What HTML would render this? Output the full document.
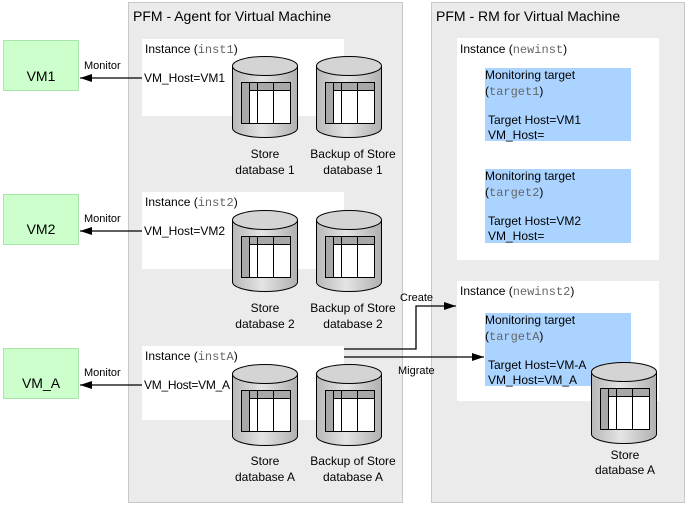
<!DOCTYPE html>
<html><head><meta charset="utf-8"><style>
html,body{margin:0;padding:0;background:#fff}
svg{display:block;font-family:"Liberation Sans",sans-serif}
.m{font-family:"Liberation Mono",monospace;fill:#666}
</style></head><body>
<svg width="687" height="505" viewBox="0 0 687 505" xmlns="http://www.w3.org/2000/svg">
<defs>
<linearGradient id="g" x1="0" x2="1" y1="0" y2="0">
<stop offset="0" stop-color="#b8b8b8"/><stop offset="0.45" stop-color="#e4e4e4"/><stop offset="1" stop-color="#b0b0b0"/>
</linearGradient>
<g id="cyl">
<path d="M0.5,10 L0.5,72 A32.5,9.5 0 0 0 65.5,72 L65.5,10" fill="url(#g)" stroke="#000"/>
<ellipse cx="33" cy="10" rx="32.5" ry="9.5" fill="#d4d4d4" stroke="#000"/>
<rect x="9.5" y="26.5" width="49" height="41" fill="#fff" stroke="#000"/>
<rect x="9.5" y="26.5" width="49" height="8" fill="#a8a8a8" stroke="#000"/>
<rect x="9.5" y="26.5" width="8" height="41" fill="#a8a8a8" stroke="#000"/>
<line x1="25.5" y1="26.5" x2="25.5" y2="67.5" stroke="#000"/>
<line x1="41.5" y1="26.5" x2="41.5" y2="67.5" stroke="#000"/>
</g>
<marker id="ah" markerWidth="12" markerHeight="8" refX="12" refY="4" orient="auto" markerUnits="userSpaceOnUse">
<path d="M0,0 L12,4 L0,8 z" fill="#000"/>
</marker>
</defs>
<rect x="128.5" y="2.5" width="274" height="500" fill="#ebebeb" stroke="#c8c8c8"/>
<rect x="431.5" y="2.5" width="253" height="500" fill="#ebebeb" stroke="#c8c8c8"/>
<text x="133" y="21" font-size="14" fill="#000">PFM - Agent for Virtual Machine</text>
<text x="436" y="21" font-size="14" fill="#000">PFM - RM for Virtual Machine</text>

<g font-size="14" text-anchor="middle">
<rect x="3.5" y="40.5" width="75" height="50" fill="#ccffcc" stroke="#a8e6a8"/><text x="41" y="81">VM1</text>
<rect x="3.5" y="194.5" width="75" height="50" fill="#ccffcc" stroke="#a8e6a8"/><text x="41" y="234">VM2</text>
<rect x="3.5" y="348.5" width="75" height="50" fill="#ccffcc" stroke="#a8e6a8"/><text x="41" y="388">VM_A</text>
</g>

<g font-size="12">
<rect x="142" y="39" width="202" height="77" fill="#fff"/>
<text x="145" y="53">Instance (<tspan class="m">inst1</tspan>)</text>
<text x="144" y="82">VM_Host=VM1</text>
<rect x="142" y="192" width="202" height="77" fill="#fff"/>
<text x="145" y="206">Instance (<tspan class="m">inst2</tspan>)</text>
<text x="144" y="235">VM_Host=VM2</text>
<rect x="142" y="346" width="202" height="74" fill="#fff"/>
<text x="145" y="360">Instance (<tspan class="m">instA</tspan>)</text>
<text x="144" y="389" textLength="86">VM_Host=VM_A</text>
</g>

<use href="#cyl" x="232" y="56"/><use href="#cyl" x="316" y="56"/>
<use href="#cyl" x="232" y="210"/><use href="#cyl" x="316" y="210"/>
<use href="#cyl" x="232" y="364"/><use href="#cyl" x="316" y="364"/>

<g font-size="12" text-anchor="middle">
<text x="265" y="158">Store</text><text x="265" y="174">database 1</text>
<text x="353" y="158">Backup of Store</text><text x="353" y="174">database 1</text>
<text x="265" y="312">Store</text><text x="265" y="328">database 2</text>
<text x="353" y="312">Backup of Store</text><text x="353" y="328">database 2</text>
<text x="265" y="465">Store</text><text x="265" y="481">database A</text>
<text x="353" y="465">Backup of Store</text><text x="353" y="481">database A</text>
<text x="625" y="459">Store</text><text x="625" y="474">database A</text>
</g>

<g font-size="12">
<rect x="457" y="38" width="202" height="222" fill="#fff"/>
<text x="460" y="53">Instance (<tspan class="m">newinst</tspan>)</text>
<rect x="485" y="68" width="146" height="73" fill="#aad4ff"/>
<text x="485" y="79">Monitoring target</text>
<text x="485" y="95">(<tspan class="m">target1</tspan>)</text>
<text x="488" y="124">Target Host=VM1</text>
<text x="488" y="139">VM_Host=</text>
<rect x="485" y="169" width="146" height="74" fill="#aad4ff"/>
<text x="485" y="180">Monitoring target</text>
<text x="485" y="196">(<tspan class="m">target2</tspan>)</text>
<text x="488" y="225">Target Host=VM2</text>
<text x="488" y="240">VM_Host=</text>

<rect x="457" y="281" width="202" height="120" fill="#fff"/>
<text x="460" y="295">Instance (<tspan class="m">newinst2</tspan>)</text>
<rect x="485" y="313" width="146" height="73" fill="#aad4ff"/>
<text x="485" y="324">Monitoring target</text>
<text x="485" y="340">(<tspan class="m">targetA</tspan>)</text>
<text x="488" y="369">Target Host=VM-A</text>
<text x="488" y="384">VM_Host=VM_A</text>
</g>
<use href="#cyl" x="591" y="362"/>

<g stroke="#000" stroke-width="1.3" fill="none">
<line x1="142" y1="78" x2="80" y2="78" marker-end="url(#ah)"/>
<line x1="142" y1="231" x2="80" y2="231" marker-end="url(#ah)"/>
<line x1="142" y1="385" x2="80" y2="385" marker-end="url(#ah)"/>
<polyline points="344,349 416,349 416,306 456,306" marker-end="url(#ah)"/>
<line x1="344" y1="357" x2="484" y2="357" marker-end="url(#ah)"/>
</g>
<g font-size="11">
<text x="84" y="69">Monitor</text>
<text x="84" y="222">Monitor</text>
<text x="84" y="376">Monitor</text>
<text x="400" y="301">Create</text>
<text x="398" y="374">Migrate</text>
</g>
</svg>
</body></html>
